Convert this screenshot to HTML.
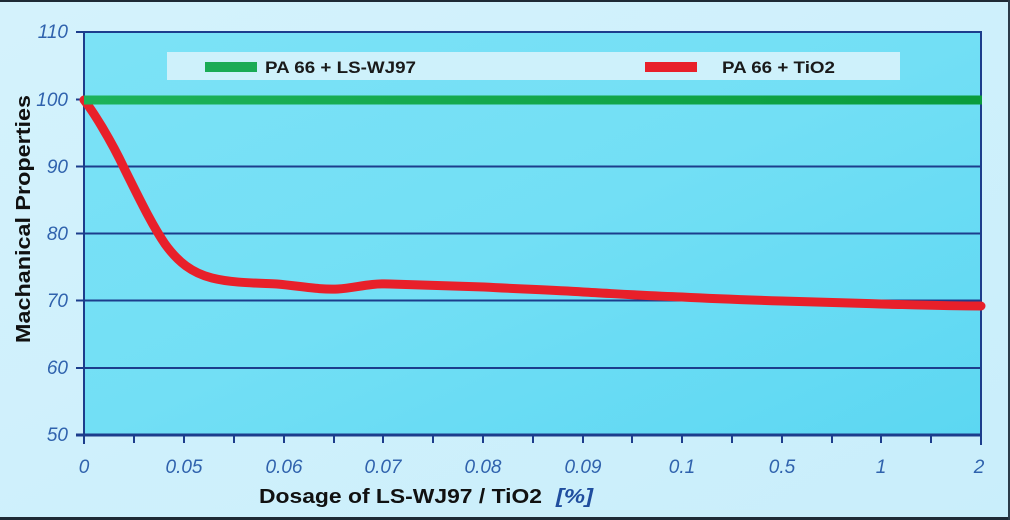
<!DOCTYPE html>
<html>
<head>
<meta charset="utf-8">
<style>
html,body{margin:0;padding:0;background:#cdf0fb;}
svg{display:block;}
</style>
</head>
<body>
<svg width="1010" height="520" viewBox="0 0 1010 520" xmlns="http://www.w3.org/2000/svg">
  <defs>
    <linearGradient id="bg" x1="0" y1="0" x2="1" y2="1">
      <stop offset="0" stop-color="#d4f2fc"/>
      <stop offset="1" stop-color="#c9eefb"/>
    </linearGradient>
    <linearGradient id="plot" x1="0" y1="0" x2="1" y2="1">
      <stop offset="0" stop-color="#7ce2f6"/>
      <stop offset="0.5" stop-color="#72dff5"/>
      <stop offset="1" stop-color="#5cd7f2"/>
    </linearGradient>
    <linearGradient id="grn" x1="0" y1="0" x2="1" y2="0">
      <stop offset="0" stop-color="#1db25a"/>
      <stop offset="1" stop-color="#0a9c3c"/>
    </linearGradient>
  </defs>
  <rect x="0" y="0" width="1010" height="520" fill="url(#bg)"/>
  <!-- borders -->
  <rect x="0" y="0" width="1010" height="2" fill="#1e2a35"/>
  <rect x="0" y="517" width="1010" height="3" fill="#1e2a35"/>
  <rect x="1008" y="0" width="2" height="520" fill="#2a3a48"/>

  <!-- plot area -->
  <rect x="84" y="32" width="897" height="403" fill="url(#plot)"/>

  <!-- gridlines -->
  <g stroke="#1c3d8c" stroke-width="2">
    <line x1="76" y1="32" x2="982" y2="32"/>
    <line x1="76" y1="99.5" x2="981" y2="99.5"/>
    <line x1="76" y1="166.5" x2="981" y2="166.5"/>
    <line x1="76" y1="233.5" x2="981" y2="233.5"/>
    <line x1="76" y1="300.5" x2="981" y2="300.5"/>
    <line x1="76" y1="368" x2="981" y2="368"/>
  </g>
  <line x1="76" y1="435" x2="982" y2="435" stroke="#1c3d8c" stroke-width="3"/>
  <line x1="84" y1="32" x2="84" y2="444" stroke="#1c3d8c" stroke-width="2"/>
  <line x1="981" y1="31" x2="981" y2="445" stroke="#1c3d8c" stroke-width="2"/>

  <!-- x ticks -->
  <g stroke="#1c3d8c" stroke-width="2">
    <line x1="134" y1="435" x2="134" y2="443"/>
    <line x1="184" y1="435" x2="184" y2="443"/>
    <line x1="234" y1="435" x2="234" y2="443"/>
    <line x1="284" y1="435" x2="284" y2="443"/>
    <line x1="334" y1="435" x2="334" y2="443"/>
    <line x1="383" y1="435" x2="383" y2="443"/>
    <line x1="433" y1="435" x2="433" y2="443"/>
    <line x1="483" y1="435" x2="483" y2="443"/>
    <line x1="533" y1="435" x2="533" y2="443"/>
    <line x1="583" y1="435" x2="583" y2="443"/>
    <line x1="632" y1="435" x2="632" y2="443"/>
    <line x1="682" y1="435" x2="682" y2="443"/>
    <line x1="732" y1="435" x2="732" y2="443"/>
    <line x1="782" y1="435" x2="782" y2="443"/>
    <line x1="832" y1="435" x2="832" y2="443"/>
    <line x1="881" y1="435" x2="881" y2="443"/>
    <line x1="931" y1="435" x2="931" y2="443"/>
  </g>

  <!-- legend -->
  <rect x="167" y="52" width="733" height="28" fill="#d3f1fb" opacity="0.95"/>
  <rect x="205" y="62" width="52" height="10" fill="#1aab55"/>
  <text x="265" y="73" font-family="Liberation Sans, sans-serif" font-size="17" font-weight="bold" fill="#1a1a1a" textLength="151" lengthAdjust="spacingAndGlyphs">PA 66 + LS-WJ97</text>
  <rect x="645" y="62" width="52" height="10" fill="#e8202a"/>
  <text x="722" y="73" font-family="Liberation Sans, sans-serif" font-size="17" font-weight="bold" fill="#1a1a1a" textLength="113" lengthAdjust="spacingAndGlyphs">PA 66 + TiO2</text>

  <!-- red series -->
  <path d="M84,100 C92,110 110,138 125,170 C140,200 152,225 165,244 C178,262 192,273 212,278 C232,283 255,283 277,284 C300,286 320,290 338,289 C356,288 368,283 390,284 C420,285 450,286 484,287 C520,289 550,290 583,292 C620,294 650,296 682,297 C720,299 750,300 782,301 C820,302 850,303 881,304 C920,305 950,306 981,306"
        fill="none" stroke="#e8202a" stroke-width="9" stroke-linecap="round" stroke-linejoin="round"/>

  <!-- green series -->
  <rect x="84" y="95.5" width="898" height="9" fill="url(#grn)"/>

  <!-- y tick labels -->
  <g font-family="Liberation Sans, sans-serif" font-size="19" font-style="italic" fill="#2f62ad" text-anchor="end">
    <text x="68" y="38">110</text>
    <text x="68" y="106">100</text>
    <text x="68" y="173">90</text>
    <text x="68" y="240">80</text>
    <text x="68" y="307">70</text>
    <text x="68" y="374">60</text>
    <text x="68" y="441">50</text>
  </g>

  <!-- x tick labels -->
  <g font-family="Liberation Sans, sans-serif" font-size="19" font-style="italic" fill="#2f62ad" text-anchor="middle">
    <text x="84" y="473">0</text>
    <text x="184" y="473">0.05</text>
    <text x="284" y="473">0.06</text>
    <text x="383" y="473">0.07</text>
    <text x="483" y="473">0.08</text>
    <text x="583" y="473">0.09</text>
    <text x="682" y="473">0.1</text>
    <text x="782" y="473">0.5</text>
    <text x="881" y="473">1</text>
    <text x="979" y="473">2</text>
  </g>

  <!-- axis titles -->
  <text x="259" y="503" font-family="Liberation Sans, sans-serif" font-size="20" font-weight="bold" fill="#111" textLength="283" lengthAdjust="spacingAndGlyphs">Dosage of LS-WJ97 / TiO2</text>
  <text x="556" y="503" font-family="Liberation Sans, sans-serif" font-size="20" font-weight="bold" font-style="italic" fill="#1f4d9e" textLength="37" lengthAdjust="spacingAndGlyphs">[%]</text>

  <text transform="translate(30,343) rotate(-90)" font-family="Liberation Sans, sans-serif" font-size="20" font-weight="bold" fill="#111" textLength="248" lengthAdjust="spacingAndGlyphs">Machanical Properties</text>
</svg>
</body>
</html>
